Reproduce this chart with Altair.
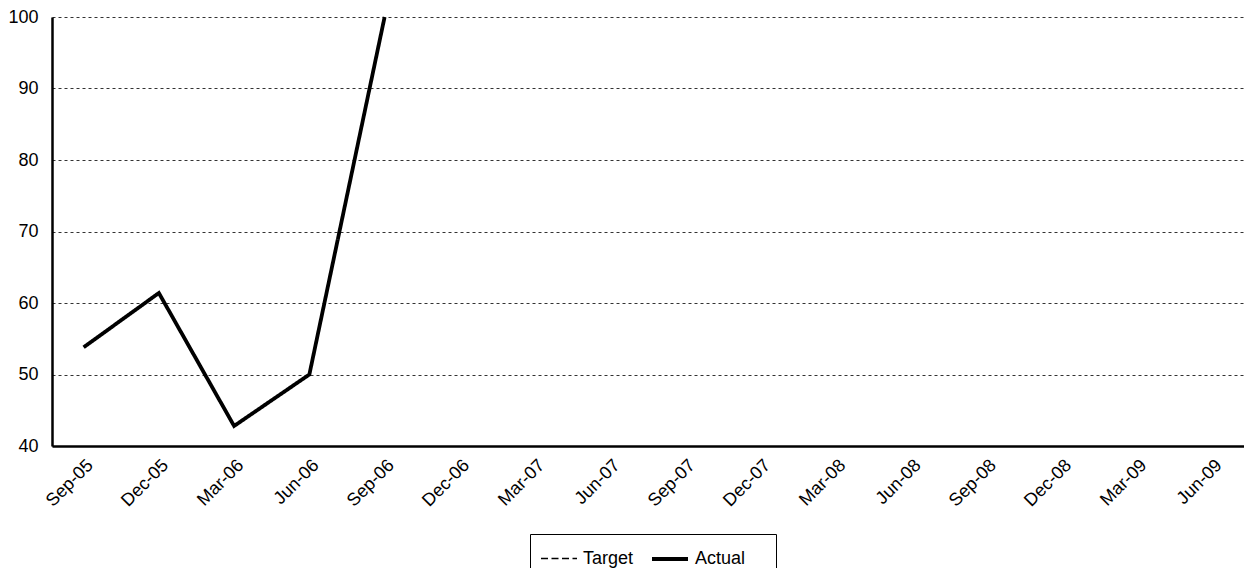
import altair as alt
import pandas as pd

categories = ["Sep-05", "Dec-05", "Mar-06", "Jun-06", "Sep-06", "Dec-06", "Mar-07", "Jun-07",
              "Sep-07", "Dec-07", "Mar-08", "Jun-08", "Sep-08", "Dec-08", "Mar-09", "Jun-09"]
actual_values = [53.8, 61.4, 42.8, 50.0, 100.0]
series_names = ["Target", "Actual"]
y_ticks = [40, 50, 60, 70, 80, 90, 100]

df = pd.DataFrame({
    "Quarter": categories[:len(actual_values)],
    "Series": ["Actual"] * len(actual_values),
    "Value": actual_values,
})

FONT = "Liberation Sans"
PAD = "\u00a0" * 5 + "\u200b"

legend_cfg = dict(
    title=None,
    orient="none",
    legendX=478,
    legendY=517,
    direction="horizontal",
    strokeColor="black",
    padding=5,
    symbolType="stroke",
    symbolSize=1296,
    symbolStrokeColor="black",
    labelFontSize=18,
    labelFont=FONT,
    labelColor="black",
    labelOffset=5,
    columnPadding=10,
    symbolOffset=5,
    labelExpr="datum.label == 'Actual' ? 'Actual" + PAD + "' : datum.label",
)

chart = alt.Chart(df).mark_line(color="black", strokeJoin="miter").encode(
    x=alt.X("Quarter:O", sort=categories,
            scale=alt.Scale(domain=categories, padding=0.42),
            axis=alt.Axis(title=None, labelAngle=-45, labelAlign="right", labelBaseline="top",
                          ticks=False, domainColor="black", domainWidth=2.5, labelFontSize=18,
                          labelFont=FONT, labelColor="black", grid=False, labelPadding=10)),
    y=alt.Y("Value:Q", scale=alt.Scale(domain=[40, 100], nice=False, zero=False),
            axis=alt.Axis(values=y_ticks, title=None, ticks=False, grid=True, gridDash=[3, 3],
                          gridColor="#333", gridWidth=1, domainColor="black", domainWidth=2.5,
                          labelFontSize=18, labelFont=FONT, labelColor="black", labelPadding=14)),
    strokeDash=alt.StrokeDash("Series:N", scale=alt.Scale(domain=series_names, range=[[7, 3.5], [1, 0]]),
                              legend=alt.Legend(**legend_cfg)),
    strokeWidth=alt.StrokeWidth("Series:N", scale=alt.Scale(domain=series_names, range=[1.5, 3.8]),
                                legend=alt.Legend(**legend_cfg)),
).properties(
    width=1192,
    height=429,
    autosize=alt.AutoSizeParams(type="none"),
    padding={"left": 44, "top": 9, "right": 0, "bottom": 122},
).configure_view(stroke=None)

chart.save("out.html", embed_options={"renderer": "svg", "actions": False})
